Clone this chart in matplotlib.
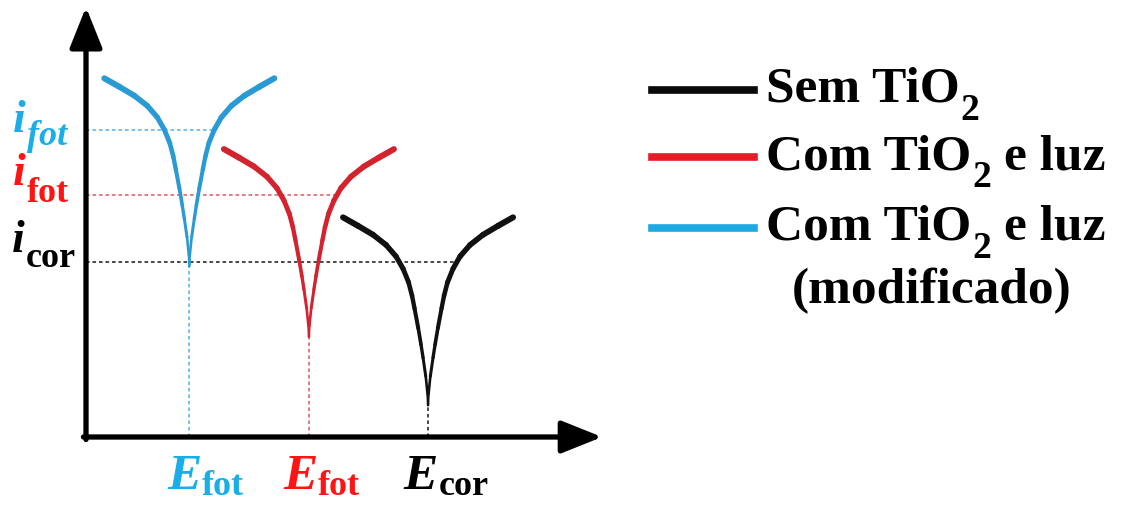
import numpy as np
import matplotlib
matplotlib.use("Agg")
from matplotlib import pyplot as plt
from matplotlib.collections import LineCollection
from matplotlib.lines import Line2D

plt.rcParams["font.family"] = "Liberation Serif"
plt.rcParams["font.weight"] = "bold"

# shape of one polarisation curve: half width of the V (potential)
# against the rise above its minimum (log current)
half_width = [0, 0.1, 0.45, 0.98, 1.38, 1.93, 2.65, 3.14, 3.83, 4.91, 6.29, 8.25, 10.8, 13.75, 16.7]
rise = [0, 2.6, 6.8, 11.2, 14.3, 18.2, 22.8, 25.8, 29.0, 32.2, 35.1, 37.8, 40.2, 42.3, 44.3]

# black: no TiO2, red: TiO2 + light, blue: modified TiO2 + light
e_corr = [67.2, 43.8, 20.3]      # potential at the dip
log_i_min = [7.5, 23.6, 40.3]    # bottom of the dip
i_level = [41.3, 57.1, 72.4]     # i_cor / i_fot levels

legend_main = ["Sem TiO", "Com TiO", "Com TiO"]
legend_tail = ["", "e luz", "e luz"]
e_subs = ["cor", "fot", "fot"]
i_subs = ["cor", "fot", "fot"]
i_sub_style = ["normal", "normal", "italic"]

curve_colors = ["#111111", "#D2232F", "#2A9AD5"]
guide_colors = ["#3A3A3A", "#E0737A", "#6BBCE8"]
label_colors = ["#000000", "#FF1414", "#1AAEE8"]
legend_colors = ["#0A0A0A", "#E41E26", "#1DA9E1"]

W, H = 1133, 505
fig = plt.figure(figsize=(W / 100, H / 100), dpi=100)
ax = fig.add_axes([86 / W, 68 / H, 509 / W, 424 / H])
ax.set_xlim(0, 100)
ax.set_ylim(0, 100)
ax.axis("off")

hw = np.array(half_width)
r = np.array(rise)
for e0, y0, lvl, c, gc in zip(e_corr, log_i_min, i_level, curve_colors, guide_colors):
    x = np.concatenate([e0 - hw[::-1], e0 + hw[1:]])
    y = np.concatenate([y0 + r[::-1], y0 + r[1:]])
    pts = np.column_stack([x, y]).reshape(-1, 1, 2)
    segs = np.concatenate([pts[:-1], pts[1:]], axis=1)
    # stroke gets thinner towards the tip of the V
    mid_rise = (y[:-1] + y[1:]) / 2 - y0
    widths = 1.6 + 2.8 * mid_rise / r.max()
    lc = LineCollection(segs, colors=c, linewidths=widths, capstyle="round",
                        joinstyle="round", zorder=3)
    ax.add_collection(lc)

    # dotted guides down to the potential axis and across to the current axis
    ax.plot([e0, e0], [0, y0], color=gc, lw=1.3, ls=(0, (2, 1.6)), zorder=2)
    x_cross = e0 + np.interp(lvl - y0, r, hw)
    ax.plot([0, x_cross], [lvl, lvl], color=gc, lw=1.3, ls=(0, (2, 1.6)), zorder=2)

# axes with arrow heads
arrow = dict(arrowstyle="-|>,head_length=2.5,head_width=1.0", color="black",
             lw=3.8, shrinkA=0, shrinkB=0, mutation_scale=10)
ax.annotate("", xy=(0, 101.4), xytext=(0, -0.6), arrowprops=arrow, annotation_clip=False)
ax.annotate("", xy=(101.4, 0), xytext=(-0.5, 0), arrowprops=arrow, annotation_clip=False)

renderer = fig.canvas.get_renderer()


def rich_text(x, y, parts, color):
    """Write pieces one after another; x, y = left edge and baseline in pixels from top-left."""
    cx = x
    for s, size, style, drop, gap in parts:
        cx += gap
        if not s:
            continue
        t = ax.annotate(s, xy=(cx, H - y - drop), xycoords="figure pixels",
                        fontsize=size, fontstyle=style, color=color,
                        ha="left", va="baseline", annotation_clip=False)
        cx += t.get_window_extent(renderer).width


# potential labels
e_label_x = [403, 283, 167]
for sub, xx, col in zip(e_subs, e_label_x, label_colors):
    rich_text(xx, 489, [("E", 37, "italic", 0, 0), (sub, 26, "normal", 6, 1)], col)

# current labels
i_label_x = [12, 13, 13]
i_label_base = [252, 185, 132]
i_drop = [15, 17, 13]
for sub, st, xx, yy, dr, col in zip(i_subs, i_sub_style, i_label_x, i_label_base,
                                     i_drop, label_colors):
    rich_text(xx, yy, [("i", 33, "italic", 0, 0), (sub, 26, st, dr, 1)], col)

# legend
legend_y = [90, 157, 228]
legend_base = [102, 169, 240]
for main, tail, ly, lb, col in zip(legend_main, legend_tail, legend_y, legend_base,
                                   legend_colors):
    fig.add_artist(Line2D([652 / W, 754 / W], [1 - ly / H, 1 - ly / H],
                          color=col, lw=5.5, transform=fig.transFigure))
    rich_text(766, lb, [(main, 37, "normal", 0, 0), ("2", 27, "normal", 18, 1),
                        (tail, 37, "normal", 0, 13)], "black")
fig.text(932 / W, 1 - 303 / H, "(modificado)", fontsize=37, ha="center",
         va="baseline")

fig.savefig("out.png", dpi=100, facecolor="white")
